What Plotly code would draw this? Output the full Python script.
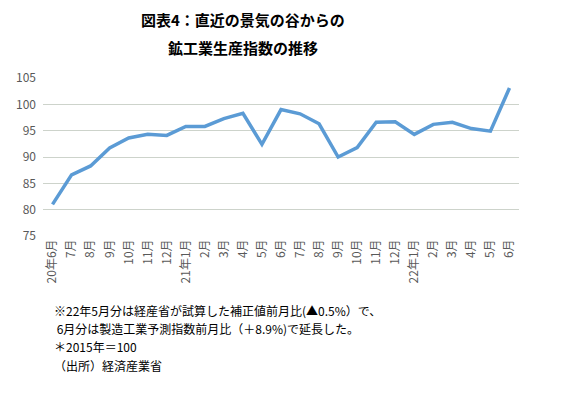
import plotly.graph_objects as go

categories = ["20年6月", "7月", "8月", "9月", "10月", "11月", "12月",
              "21年1月", "2月", "3月", "4月", "5月", "6月", "7月", "8月", "9月", "10月", "11月", "12月",
              "22年1月", "2月", "3月", "4月", "5月", "6月"]
values = [81.0, 86.6, 88.3, 91.7, 93.6, 94.3, 94.1, 95.8, 95.8, 97.3, 98.3, 92.4,
          99.0, 98.2, 96.3, 90.0, 91.8, 96.6, 96.7, 94.3, 96.2, 96.6, 95.4, 94.9, 103.1]
y_ticks = [75, 80, 85, 90, 95, 100, 105]

title_lines = ["図表4：直近の景気の谷からの", "鉱工業生産指数の推移"]
notes = ["※22年5月分は経産省が試算した補正値前月比(▲0.5%）で、",
         " 6月分は製造工業予測指数前月比（＋8.9%)で延長した。",
         "＊2015年＝100",
         "（出所）経済産業省"]

font = "Noto Sans CJK JP"
x_idx = list(range(len(categories)))

fig = go.Figure()
fig.add_trace(go.Scatter(x=x_idx, y=values, mode="lines",
                         line=dict(color="#5b9bd5", width=3.5)))

fig.update_layout(
    width=570, height=390,
    margin=dict(l=35, r=59, t=70, b=162, autoexpand=False),
    paper_bgcolor="white", plot_bgcolor="white",
    showlegend=False,
    font=dict(family=font, color="#595959"),
    xaxis=dict(range=[-0.5, len(categories) - 0.5], tickmode="array",
               tickvals=x_idx, ticktext=categories, tickangle=-90,
               tickfont=dict(size=12, color="#595959"), showgrid=False,
               showline=False, zeroline=False, ticks="", automargin=False),
    yaxis=dict(range=[75, 105], tickmode="array", tickvals=y_ticks,
               tickfont=dict(size=12, color="#595959"), showgrid=True,
               gridcolor="#cdd3cb", gridwidth=1, zeroline=False, ticks="",
               showline=False, automargin=False, ticklabelstandoff=6),
)

fig.add_annotation(text="<b>" + title_lines[0] + "</b>", xref="paper", yref="paper",
                   x=(243 - 43) / 476, y=1 + 70 / 158, xanchor="center", yanchor="top",
                   borderpad=0, showarrow=False,
                   font=dict(family=font, size=15, color="#000000"))
fig.add_annotation(text="<b>" + title_lines[1] + "</b>", xref="paper", yref="paper",
                   x=(243 - 43) / 476, y=1 + (78 - 47) / 158, xanchor="center", yanchor="middle",
                   showarrow=False, font=dict(family=font, size=15, color="#000000"))

note_y = [310, 328, 346, 365]
for t, yy in zip(notes, note_y):
    fig.add_annotation(text=t, xref="paper", yref="paper",
                       x=(52 - 43) / 476, y=(236 - yy) / 158, xanchor="left", yanchor="middle",
                       showarrow=False, font=dict(family=font, size=12, color="#000000"))

fig.write_html("out.html")
